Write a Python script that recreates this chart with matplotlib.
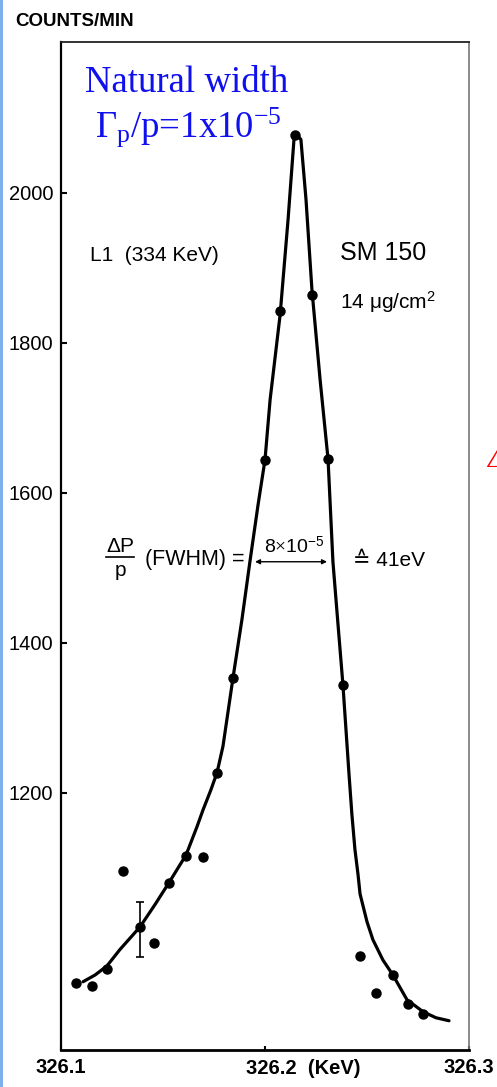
import matplotlib
matplotlib.use("Agg")
import matplotlib.pyplot as plt
from matplotlib.patches import Rectangle
from matplotlib.lines import Line2D

# ---------------- data ----------------
point_x = [326.1074, 326.1152, 326.1225, 326.1304, 326.1387, 326.1456, 326.1529,
           326.1613, 326.1696, 326.1765, 326.1843, 326.2000, 326.2074, 326.2147,
           326.2230, 326.2309, 326.2382, 326.2466, 326.2544, 326.2627, 326.2701,
           326.2775]
point_y = [947, 943, 965, 1096, 1021, 1000, 1080, 1116, 1115, 1227, 1353, 1644,
           1843, 2077, 1864, 1645, 1344, 983, 933, 957, 919, 905]

curve_x = [326.1108, 326.1167, 326.1225, 326.1289, 326.1387, 326.1461, 326.1529,
           326.1613, 326.1667, 326.1696, 326.1735, 326.1765, 326.1794, 326.1843,
           326.1887, 326.1926, 326.1966, 326.2000, 326.2025, 326.2074, 326.2113,
           326.2142, 326.2157, 326.2176, 326.2201, 326.2230, 326.2270, 326.2309,
           326.2333, 326.2358, 326.2382, 326.2412, 326.2426, 326.2441, 326.2456,
           326.2466, 326.2500, 326.2529, 326.2578, 326.2627, 326.2696, 326.2775,
           326.2838, 326.2902]
curve_y = [948, 957, 969, 991, 1021, 1051, 1080, 1117, 1155, 1177, 1204, 1227,
           1262, 1353, 1431, 1508, 1584, 1644, 1724, 1837, 1964, 2071, 2077, 2071,
           1991, 1871, 1751, 1645, 1508, 1424, 1344, 1224, 1171, 1124, 1091,
           1065, 1028, 1004, 977, 957, 924, 908, 900, 896]

err_x = [326.1387]
err_center = [1021]
err_low = [981]
err_high = [1055]

fwhm_left, fwhm_right, fwhm_level = 326.1951, 326.2304, 1508

y_ticks = [1200, 1400, 1600, 1800, 2000]
x_ticks = [326.1, 326.2, 326.3]
x_ticklabels = ["326.1", "", "326.3"]

# ---------------- fonts ----------------
SANS = ['Liberation Sans', 'DejaVu Sans']
SERIF = 'Liberation Serif'
plt.rcParams['font.family'] = SANS
plt.rcParams['mathtext.fontset'] = 'custom'
plt.rcParams['mathtext.rm'] = SERIF
plt.rcParams['mathtext.it'] = SERIF + ':italic'

W, H = 497, 1087
fig = plt.figure(figsize=(W / 100, H / 100), dpi=100)

def fx(px):
    return px / W

def fy(py):
    return 1 - py / H

ax = fig.add_axes([fx(61), fy(1050), fx(469) - fx(61), fy(42) - fy(1050)])
ax.set_xlim(326.1, 326.3)
ax.set_ylim(857, 2201)

ax.plot(curve_x, curve_y, color='black', lw=2.3, solid_capstyle='round',
        solid_joinstyle='round', zorder=2)
ax.plot(point_x, point_y, 'o', color='black', ms=6.5, zorder=3)
ax.errorbar(err_x, err_center,
            yerr=[[c - l for c, l in zip(err_center, err_low)],
                  [h - c for c, h in zip(err_center, err_high)]],
            fmt='none', ecolor='black', elinewidth=1.2, capsize=3, capthick=1.2)

ax.annotate('', xy=(fwhm_left, fwhm_level), xytext=(fwhm_right, fwhm_level),
            arrowprops=dict(arrowstyle='<|-|>', color='black', lw=1.0,
                            mutation_scale=7, shrinkA=0, shrinkB=0))

# axes styling
ax.spines['left'].set_linewidth(1.6)
ax.spines['bottom'].set_linewidth(2.0)
ax.spines['top'].set_linewidth(1.3)
ax.spines['top'].set_color('#222222')
ax.spines['right'].set_linewidth(1.2)
ax.spines['right'].set_color('#777777')

ax.set_yticks(y_ticks)
ax.set_yticklabels([str(v) for v in y_ticks])
ax.set_xticks(x_ticks)
ax.set_xticklabels(x_ticklabels)
ax.tick_params(axis='y', direction='in', length=4, width=1.5, pad=5.5, labelsize=14.5)
ax.tick_params(axis='x', direction='in', length=3, width=1.5, pad=6, labelsize=14.5)
for lab in ax.get_xticklabels():
    lab.set_fontweight('bold')

# ---------------- texts ----------------
fig.text(fx(15), fy(22), "COUNTS/MIN", fontsize=13.5, fontweight='bold',
         ha='left', va='center')
fig.text(fx(246), fy(1068), "326.2  (KeV)", fontsize=14.5, fontweight='bold',
         ha='left', va='center')

blue = '#1010ee'
fig.text(fx(187), fy(92), "Natural width", fontsize=26.5, family=SERIF,
         color=blue, ha='center', va='baseline')
fig.text(fx(188), fy(137),
         r"Γ$_{\mathregular{p}}$/p=1x10$^{\mathregular{-5}}$",
         fontsize=26.5, family=SERIF, color=blue, ha='center', va='baseline')

fig.text(fx(90), fy(256), "L1  (334 KeV)", fontsize=15, ha='left', va='center')
fig.text(fx(340), fy(253), "SM 150", fontsize=18, ha='left', va='center')
fig.text(fx(340), fy(302), r"14 μg/cm$^{\mathregular{2}}$", fontsize=15,
         ha='left', va='center')

# fraction dP/p
fig.text(fx(120), fy(546), "ΔP", fontsize=15, ha='center', va='center')
fig.add_artist(Line2D([fx(106), fx(134)], [fy(557), fy(557)], color='black', lw=1.2))
fig.text(fx(120), fy(571), "p", fontsize=15, ha='center', va='center')
fig.text(fx(145), fy(560), "(FWHM) =", fontsize=15.5, ha='left', va='center')
fig.text(fx(294), fy(546), r"8$\times$10$^{\mathregular{-5}}$", fontsize=14,
         ha='center', va='center')
fig.text(fx(353), fy(560), "≙ 41eV", fontsize=15, ha='left', va='center')

# red partial glyph at right edge (cut by the figure edge, as in the reference)
fig.text(fx(488), fy(467), "Δ", fontsize=20, color='red', style='italic',
         family=SERIF, ha='left', va='baseline')

# blue strip on the left edge
fig.add_artist(Rectangle((0, 0), fx(3), 1, transform=fig.transFigure,
                         facecolor='#7fb0ee', edgecolor='none'))

fig.savefig("out.png", dpi=100)
